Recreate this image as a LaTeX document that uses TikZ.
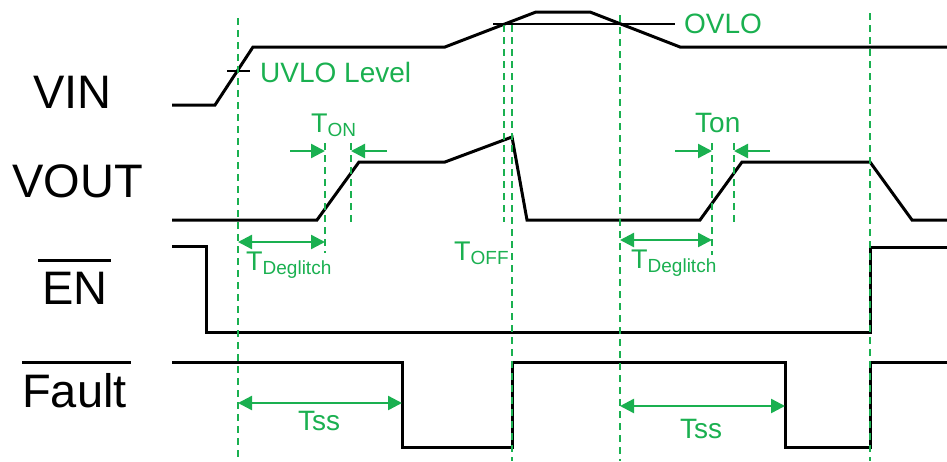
\documentclass[tikz,border=0pt]{standalone}
\usepackage{fontspec}
\setmainfont{Liberation Sans}
\usetikzlibrary{arrows.meta}
\definecolor{Mark}{HTML}{1AB050}
\tikzset{
  signal/.style={line width=3pt, line join=miter},
  marker/.style={draw=Mark, line width=1.7pt, dash pattern=on 7pt off 5pt},
  level/.style={line width=1.3pt},
  span/.style={draw=Mark, line width=2.4pt,
    {Triangle[length=14pt,width=14pt]}-{Triangle[length=14pt,width=14pt]}},
  push/.style={draw=Mark, line width=2.4pt, -{Triangle[length=14pt,width=14pt]}},
  siglabel/.style={anchor=base west, inner sep=0pt, font=\fontsize{47}{47}\selectfont},
  note/.style={anchor=base west, inner sep=0pt, text=Mark, font=\fontsize{28}{28}\selectfont}
}
\newcommand{\lowsub}[1]{\raisebox{-4pt}{\fontsize{19}{19}\selectfont #1}}

\begin{document}
\begin{tikzpicture}[x=1pt,y=-1pt]
  \useasboundingbox (0,0) rectangle (947,461);

  % signal names
  \node[siglabel] (vin) at (33,108) {VIN};
  \node[siglabel] (vout) at (12,197) {VOUT};
  \node[siglabel] (en) at (42,304) {EN};
  \node[siglabel] (fault) at (22,407) {Fault};
  \draw[line width=2.6pt] ([xshift=-4pt,yshift=11pt]en.north west) -- ([xshift=3pt,yshift=11pt]en.north east);
  \draw[line width=2.6pt] ([yshift=10pt]fault.north west) -- ([xshift=4pt,yshift=10pt]fault.north east);

  % waveforms
  \draw[signal] (172,105) -- (215,105) -- (253,47) -- (445,47) -- (536,12)
    -- (590,12) -- (680,47) -- (947,47);
  \draw[signal] (172,220) -- (317,220) -- (359,162) -- (445,162) -- (512,137)
    -- (527,220) -- (700,220) -- (742,162) -- (870,162) -- (912,220) -- (947,220);
  \draw[signal] (172,246) -- (206,246) -- (206,332) -- (870,332) -- (870,247) -- (947,247);
  \draw[signal] (172,362) -- (402,362) -- (402,447) -- (512,447) -- (512,362)
    -- (785,362) -- (785,447) -- (870,447) -- (870,362) -- (947,362);

  % threshold levels
  \draw[level] (227,71) -- (250,71);
  \draw[level] (493,24) -- (675,24);
  \node[note] (uvlo) at (260,82) {UVLO Level};
  \node[note] (ovlo) at (684,33) {OVLO};

  % time markers
  \foreach \x/\top/\bot in {238/18/461, 325/143/253, 351/143/225, 504/25/222,
      512/25/461, 620/15/461, 712/143/255, 734/143/225, 870/13/461}
    \draw[marker] (\x,\top) -- (\x,\bot);

  % timing spans
  \draw[push] (290,151) -- (325,151);
  \draw[push] (387,151) -- (351,151);
  \draw[push] (675,151) -- (712,151);
  \draw[push] (770,151) -- (734,151);
  \draw[span] (238,242) -- (325,242);
  \draw[span] (620,240) -- (712,240);
  \draw[span] (238,403) -- (402,403);
  \draw[span] (620,406) -- (785,406);

  \node[note,font=\fontsize{27}{27}\selectfont] (ton1) at (311,132) {T\lowsub{ON}};
  \node[note] (ton2) at (695,132) {Ton};
  \node[note,font=\fontsize{27}{27}\selectfont] (tdg1) at (246,270) {T\lowsub{Deglitch}};
  \node[note,font=\fontsize{27}{27}\selectfont] (tdg2) at (631,268) {T\lowsub{Deglitch}};
  \node[note,font=\fontsize{27}{27}\selectfont] (toff) at (454,260) {T\lowsub{OFF}};
  \node[note] (tss1) at (298,430) {Tss};
  \node[note] (tss2) at (680,438) {Tss};
\end{tikzpicture}
\end{document}
